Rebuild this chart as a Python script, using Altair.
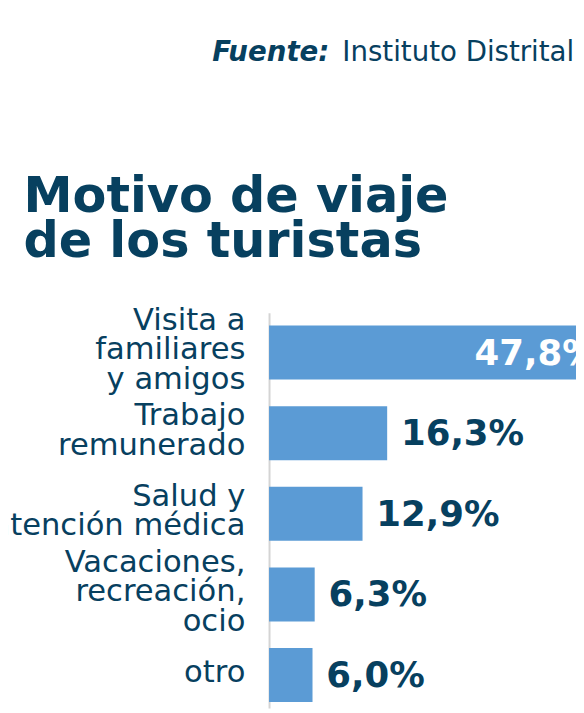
import altair as alt
import pandas as pd

# ---- data ----
categories = [
    "Visita a|familiares|y amigos",
    "Trabajo|remunerado",
    "Salud y|atención médica",
    "Vacaciones,|recreación,|ocio",
    "otro",
]
values = [47.8, 16.3, 12.9, 6.3, 6.0]
labels = [f"{v:.1f}".replace(".", ",") + "%" for v in values]
title_lines = ["Motivo de viaje", "de los turistas"]
source_lead = ["Fuente:"]
source_text = ["Instituto Distrital de Turismo"]

NAVY = "#07405f"
BAR = "#5b9bd5"
FONT = "DejaVu Sans"
LINE_H = 30

df = pd.DataFrame({"cat": categories, "v": values, "lab": labels})
df["n"] = [len(c.split("|")) for c in categories]

x_scale = alt.Scale(domain=[0, 42.35], nice=False, zero=True)
y_scale = alt.Scale(paddingInner=0.33, paddingOuter=0.1175, align=0.68)

base = alt.Chart(df).encode(
    y=alt.Y(
        "cat:N",
        sort=categories,
        scale=y_scale,
        axis=alt.Axis(
            title=None,
            domain=True,
            domainColor="#d4d4d4",
            domainWidth=2,
            ticks=False,
            grid=False,
            labels=False,
        ),
    ),
)

bars = base.mark_bar(color=BAR, clip=True).encode(
    x=alt.X("v:Q", scale=x_scale, axis=None)
)

lab_out = base.transform_filter("datum.v < 40").mark_text(
    align="left", baseline="middle", dx=14, dy=1,
    font=FONT, fontWeight="bold", fontSize=36, color=NAVY,
).encode(x=alt.X("v:Q", scale=x_scale, axis=None), text="lab:N")

lab_in = base.transform_filter("datum.v >= 40").mark_text(
    align="right", baseline="middle", dx=-18, dy=2, clip=True,
    font=FONT, fontWeight="bold", fontSize=36, color="white",
).encode(x=alt.X("v:Q", scale=x_scale, axis=None), text="lab:N")

# category names, multi-line, centred on each bar
cat_layers = []
for n in sorted(set(df["n"])):
    cat_layers.append(
        base.transform_filter(f"datum.n == {n}").mark_text(
            align="right", baseline="middle", lineBreak="|",
            lineHeight=LINE_H, dy=-(n - 1) * LINE_H / 2 - 2,
            font=FONT, fontSize=31, color=NAVY,
        ).encode(x=alt.value(-24), text="cat:N")
    )

title = alt.Chart(pd.DataFrame({"k": [0]})).mark_text(
    text=title_lines, align="left", baseline="alphabetic", lineHeight=46,
    font=FONT, fontWeight="bold", fontSize=50, color=NAVY,
).encode(x=alt.value(-249), y=alt.value(-102))

src1 = alt.Chart(pd.DataFrame({"t": source_lead})).mark_text(
    align="left", baseline="alphabetic",
    font=FONT, fontWeight="bold", fontStyle="italic", fontSize=28, color=NAVY,
).encode(text="t:N", x=alt.value(-57.7), y=alt.value(-255))

src2 = alt.Chart(pd.DataFrame({"t": source_text})).mark_text(
    align="left", baseline="alphabetic",
    font=FONT, fontSize=28, color=NAVY,
).encode(text="t:N", x=alt.value(74.3), y=alt.value(-255))

chart = alt.layer(bars, lab_out, lab_in, *cat_layers, title, src1, src2).properties(
    width=311.3,
    height=401,
    autosize=alt.AutoSizeParams(type="none"),
    padding={"left": 264.7, "top": 304, "right": 0, "bottom": 0},
).configure_view(stroke=None)

chart.save("out.html", embed_options={"renderer": "svg", "actions": False})
